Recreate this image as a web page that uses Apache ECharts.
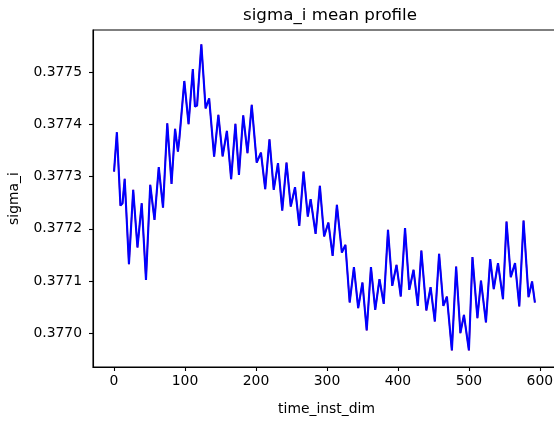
<!DOCTYPE html>
<html>
<head>
<meta charset="utf-8">
<script src="https://cdn.jsdelivr.net/npm/echarts@6/dist/echarts.min.js"></script>
<style>
  html, body { margin: 0; padding: 0; background: #fff; }
  #chart { width: 554px; height: 423px; }
</style>
</head>
<body>
<div id="chart"></div>
<script>
// time_inst_dim values of the traced vertices
const timeValues = [0, 4, 9, 12, 15, 21, 27, 33, 39, 45, 51, 57, 63, 69, 75, 81, 86, 90, 92, 99,
  105, 111, 114, 117, 123, 129, 134, 141, 147, 153, 159, 165, 171, 176, 182, 188, 194, 201, 207, 213,
  219, 225, 231, 237, 243, 249, 255, 261, 267, 273, 277, 284, 290, 296, 302, 308, 314, 321, 326, 332,
  338, 344, 350, 356, 362, 368, 374, 380, 386, 392, 398, 404, 410, 416, 422, 428, 433, 440, 446, 452,
  458, 464, 469, 476, 482, 488, 493, 500, 505, 512, 517, 524, 530, 535, 541, 548, 553, 559, 565, 571,
  577, 584, 589, 593];
// sigma_i mean values
const sigmaValues = [0.3773096, 0.3773851, 0.3772444, 0.3772490, 0.3772956, 0.3771322, 0.3772745, 0.3771640, 0.3772490, 0.3771021,
  0.3772841, 0.3772170, 0.3773180, 0.3772406, 0.3774023, 0.3772860, 0.3773914, 0.3773479, 0.3773722, 0.3774833,
  0.3774004, 0.3775063, 0.3774341, 0.3774360, 0.3775536, 0.3774307, 0.3774498, 0.3773383, 0.3774182, 0.3773387,
  0.3773875, 0.3772952, 0.3774010, 0.3773033, 0.3774172, 0.3773448, 0.3774374, 0.3773268, 0.3773460, 0.3772759,
  0.3773716, 0.3772745, 0.3773257, 0.3772349, 0.3773268, 0.3772425, 0.3772797, 0.3772056, 0.3773096, 0.3772234,
  0.3772567, 0.3771902, 0.3772822, 0.3771851, 0.3772119, 0.3771481, 0.3772458, 0.3771544, 0.3771692, 0.3770586,
  0.3771264, 0.3770479, 0.3770969, 0.3770050, 0.3771264, 0.3770446, 0.3771034, 0.3770561, 0.3771979, 0.3770906,
  0.3771308, 0.3770701, 0.3772011, 0.3770829, 0.3771213, 0.3770523, 0.3771582, 0.3770433, 0.3770881, 0.3770222,
  0.3771519, 0.3770523, 0.3770701, 0.3769667, 0.3771276, 0.3770000, 0.3770350, 0.3769667, 0.3771456, 0.3770287,
  0.3771008, 0.3770203, 0.3771418, 0.3770843, 0.3771341, 0.3770651, 0.3772138, 0.3771073, 0.3771341, 0.3770510,
  0.3772157, 0.3770690, 0.3770989, 0.3770586];
const xTickValues = [0, 100, 200, 300, 400, 500, 600];
const yTickValues = [0.3770, 0.3771, 0.3772, 0.3773, 0.3774, 0.3775];

const points = timeValues.map((t, i) => [t, sigmaValues[i]]);
const font = 'DejaVu Sans';

const chart = echarts.init(document.getElementById('chart'), null, { renderer: 'canvas' });
chart.setOption({
  animation: false,
  backgroundColor: '#ffffff',
  title: {
    text: 'sigma_i mean profile',
    left: 325,
    top: 2,
    textAlign: 'center',
    textStyle: { fontFamily: font, fontSize: 16.7, fontWeight: 'normal', color: '#000' }
  },
  grid: {
    left: 93, top: 30, width: 467, height: 337,
    show: true, borderColor: '#000', borderWidth: 1.1, backgroundColor: 'transparent',
    containLabel: false,
    outerBoundsMode: 'none'
  },
  xAxis: {
    type: 'value',
    min: -29.65, max: 628.35,
    name: 'time_inst_dim',
    nameLocation: 'middle',
    nameGap: 35,
    nameTextStyle: { fontFamily: font, fontSize: 13.9, color: '#000' },
    axisLine: { show: true, onZero: false, lineStyle: { color: '#000', width: 1.1 } },
    axisTick: { show: true, length: 4, lineStyle: { color: '#000', width: 1.1 }, customValues: xTickValues },
    axisLabel: { fontFamily: font, fontSize: 13.9, color: '#000', margin: 7, customValues: xTickValues,
      formatter: v => String(Math.round(v)) },
    splitLine: { show: false }
  },
  yAxis: {
    type: 'value',
    min: 0.376935, max: 0.377581,
    name: 'sigma_i',
    nameLocation: 'middle',
    nameRotate: 90,
    nameGap: 72,
    nameTextStyle: { fontFamily: font, fontSize: 13.9, color: '#000' },
    axisLine: { show: true, onZero: false, lineStyle: { color: '#000', width: 1.1 } },
    axisTick: { show: true, length: 4, lineStyle: { color: '#000', width: 1.1 }, customValues: yTickValues },
    axisLabel: { fontFamily: font, fontSize: 13.9, color: '#000', margin: 11, customValues: yTickValues,
      formatter: v => v.toFixed(4) },
    splitLine: { show: false }
  },
  series: [
    {
      type: 'line', data: points, showSymbol: false, symbol: 'none',
      lineStyle: { color: '#ff0000', width: 1.4 }, z: 2
    },
    {
      type: 'line', data: points, showSymbol: false, symbol: 'none',
      lineStyle: { color: '#0000ff', width: 2.1 }, z: 3
    }
  ]
});
</script>
</body>
</html>
